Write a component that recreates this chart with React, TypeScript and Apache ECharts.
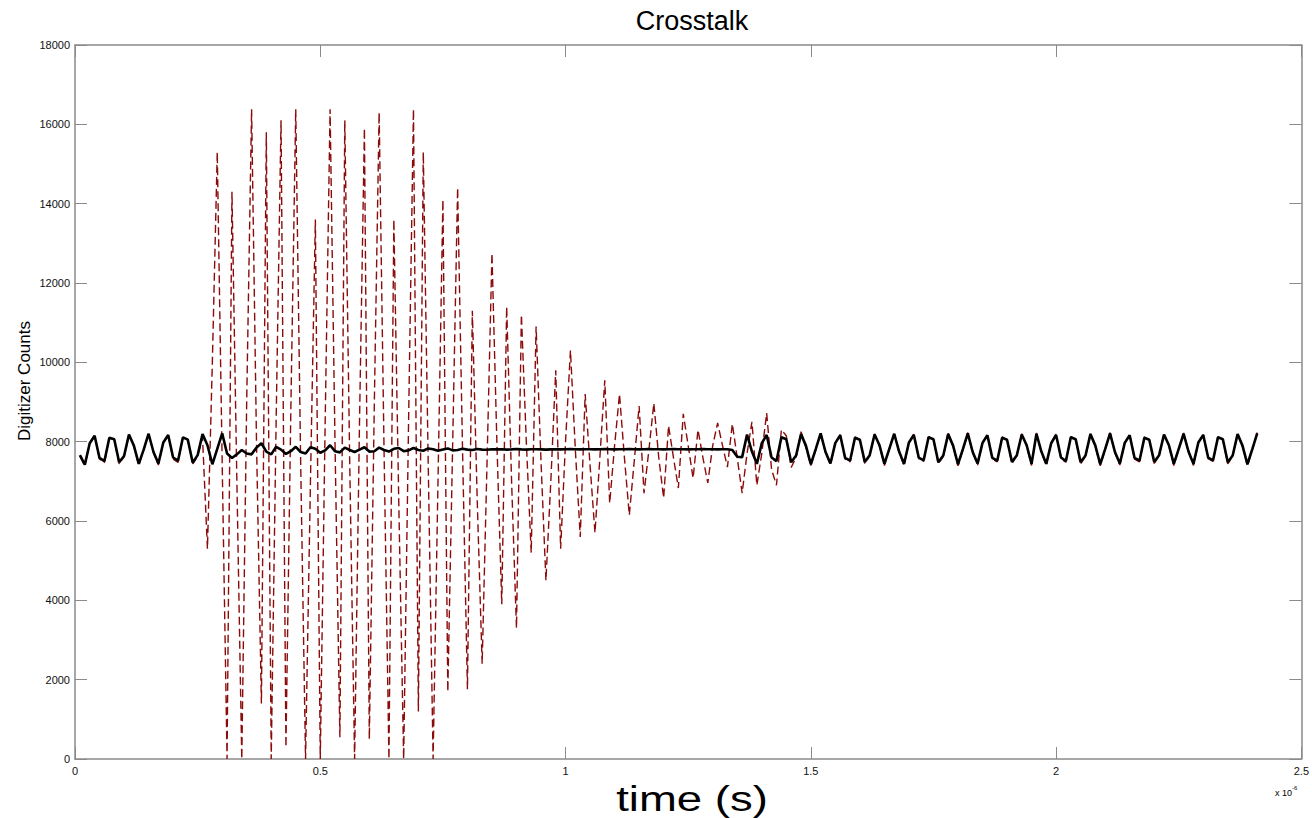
import React, { useEffect, useRef } from "react";
import * as echarts from "echarts";

// Digitizer sampling: one sample every 0.01 µs, first sample at 0.01 µs
const SAMPLE_INTERVAL_US = 0.01;

const xTickLabels = ["0", "0.5", "1", "1.5", "2", "2.5"];
const yTickLabels = ["0", "2000", "4000", "6000", "8000", "10000", "12000", "14000", "16000", "18000"];

// Black (solid) channel, digitizer counts, samples 1..241
const blackCounts = [
  // 1-15
  7660, 7420, 7960, 8150, 7590, 7510, 8100, 8060, 7480, 7640, 8180, 7900, 7440, 7800, 8200,
  // 16-30
  7740, 7450, 7980, 8170, 7600, 7520, 8110, 8050, 7470, 7660, 8190, 7910, 7430, 7820, 8210,
  // 31-40
  7700, 7590, 7680, 7790, 7700, 7680, 7850, 7960, 7750, 7680,
  // 41-50
  7870, 7800, 7690, 7760, 7870, 7740, 7700, 7860, 7820, 7720,
  // 51-60
  7780, 7910, 7760, 7730, 7850, 7790, 7740, 7800, 7860, 7750,
  // 61-70
  7760, 7850, 7790, 7750, 7820, 7840, 7760, 7780, 7840, 7790,
  // 71-80
  7770, 7830, 7810, 7770, 7800, 7830, 7780, 7790, 7820, 7800,
  // 81-90
  7790, 7815, 7800, 7795, 7810, 7805, 7810, 7800, 7805, 7815,
  // 91-100
  7805, 7800, 7810, 7810, 7805, 7800, 7805, 7810, 7805, 7810,
  // 101-110
  7815, 7810, 7805, 7810, 7810, 7805, 7810, 7815, 7810, 7805,
  // 111-120
  7810, 7810, 7815, 7810, 7805, 7810, 7815, 7810, 7810, 7805,
  // 121-130
  7810, 7815, 7810, 7810, 7805, 7810, 7810, 7815, 7810, 7810,
  // 131-136
  7805, 7810, 7810, 7790, 7620, 7610,
  // 137-151
  8180, 7750, 7440, 7960, 8170, 7600, 7510, 8110, 8060, 7480, 7650, 8190, 7900, 7430, 7810,
  // 152-166
  8210, 7740, 7450, 7970, 8160, 7590, 7520, 8100, 8050, 7490, 7660, 8180, 7910, 7440, 7820,
  // 167-181
  8200, 7750, 7440, 7980, 8170, 7600, 7530, 8110, 8060, 7480, 7650, 8190, 7900, 7430, 7810,
  // 182-195
  8210, 7740, 7450, 7970, 8160, 7590, 7520, 8100, 8050, 7490, 7660, 8180, 7910, 7440,
  // 196-210
  8200, 7750, 7440, 7960, 8170, 7600, 7510, 8110, 8060, 7480, 7650, 8190, 7900, 7430, 7810,
  // 211-225
  8210, 7740, 7450, 7970, 8160, 7590, 7520, 8100, 8050, 7490, 7660, 8180, 7910, 7440, 7820,
  // 226-240
  8200, 7750, 7440, 7980, 8170, 7600, 7530, 8110, 8060, 7480, 7650, 8190, 7900, 7430, 7810,
  // 241
  8210,
];

// Red (dashed) channel, digitizer counts, samples 1..241
const redCounts = [
  // 1-15
  7640, 7390, 7950, 8140, 7560, 7470, 8090, 8050, 7440, 7620, 8170, 7890, 7400, 7790, 8190,
  // 16-26
  7720, 7410, 7970, 8160, 7560, 7480, 8100, 8040, 7440, 7640, 8100,
  // 27-36
  5300, 10000, 15300, 7500, 0, 14300, 7000, 0, 9000, 16383,
  // 37-46
  8000, 1400, 15800, 0, 8500, 16100, 300, 8800, 16383, 7500,
  // 47-56
  0, 7000, 13600, 0, 8500, 16383, 8000, 550, 16100, 7500,
  // 57-66
  0, 8500, 15900, 500, 8800, 16300, 7800, 0, 13600, 6500,
  // 67-76
  0, 8500, 16383, 1200, 15300, 7500, 0, 7000, 14100, 1700,
  // 77-86
  8000, 14400, 7800, 1760, 11300, 6500, 2400, 7500, 12750, 8000,
  // 87-96
  3900, 11400, 7000, 3300, 11200, 8000, 5200, 10900, 7500, 4500,
  // 97-106
  7000, 9800, 5300, 8000, 10300, 7800, 5600, 9200, 7400, 5700,
  // 107-116
  7600, 9550, 6450, 7900, 9200, 7600, 6150, 7500, 8900, 6700,
  // 117-126
  7800, 8970, 7600, 6580, 8400, 7600, 6830, 8700, 7900, 7080,
  // 127-136
  8300, 7600, 6960, 7900, 8470, 7900, 7360, 8450, 7600, 6700,
  // 137-139
  7700, 8500, 6900,
  // 140-151
  7700, 8720, 7300, 6900, 8300, 8150, 7350, 7600, 8250, 7850, 7400, 7780,
  // 152-166
  8230, 7720, 7410, 7980, 8180, 7560, 7490, 8120, 8040, 7450, 7640, 8200, 7890, 7400, 7800,
  // 167-181
  8220, 7730, 7400, 7990, 8190, 7570, 7500, 8130, 8050, 7440, 7630, 8210, 7880, 7390, 7790,
  // 182-195
  8230, 7720, 7410, 7980, 8180, 7560, 7490, 8120, 8040, 7450, 7640, 8200, 7890, 7400,
  // 196-210
  8220, 7730, 7400, 7970, 8190, 7570, 7480, 8130, 8050, 7440, 7630, 8210, 7880, 7390, 7790,
  // 211-225
  8230, 7720, 7410, 7980, 8180, 7560, 7490, 8120, 8040, 7450, 7640, 8200, 7890, 7400, 7800,
  // 226-240
  8220, 7730, 7400, 7990, 8190, 7570, 7500, 8130, 8050, 7440, 7630, 8210, 7880, 7390, 7790,
  // 241
  8230,
];

const sampleTimesUs = blackCounts.map((_, i) => +((i + 1) * SAMPLE_INTERVAL_US).toFixed(2));

const FONT = "'Liberation Sans', Arial, Helvetica, sans-serif";
const FRAME = "#8a8a8a";

export default function App() {
  const ref = useRef<HTMLDivElement>(null);

  useEffect(() => {
    if (!ref.current) return;
    const chart = echarts.init(ref.current, undefined, { renderer: "svg" });

    const blackData = sampleTimesUs.map((t, i) => [t, blackCounts[i]]);
    const redData = sampleTimesUs.map((t, i) => [t, redCounts[i]]);

    const xFmt = (v: number) => {
      const idx = Math.round(v / 0.5);
      return xTickLabels[idx] ?? String(v);
    };
    const yFmt = (v: number) => {
      const idx = Math.round(v / 2000);
      return yTickLabels[idx] ?? String(v);
    };

    const axisLineStyle = { color: FRAME, width: 1.5 };
    const tickStyle = { color: FRAME, width: 1 };

    chart.setOption({
      animation: false,
      backgroundColor: "#ffffff",
      grid: { left: 75, right: 9, top: 45, bottom: 59 },
      xAxis: [
        {
          type: "value",
          min: 0,
          max: 2.5,
          interval: 0.5,
          position: "bottom",
          axisLine: { show: true, onZero: false, lineStyle: axisLineStyle },
          axisTick: { show: true, inside: true, length: 12, lineStyle: tickStyle },
          axisLabel: {
            show: true,
            color: "#111",
            fontSize: 11,
            fontFamily: FONT,
            margin: 6,
            formatter: xFmt,
            showMinLabel: true,
            showMaxLabel: true,
          },
          splitLine: { show: false },
        },
        {
          type: "value",
          min: 0,
          max: 2.5,
          interval: 0.5,
          position: "top",
          axisLine: { show: true, onZero: false, lineStyle: axisLineStyle },
          axisTick: { show: true, inside: true, length: 12, lineStyle: tickStyle },
          axisLabel: { show: false },
          splitLine: { show: false },
        },
      ],
      yAxis: [
        {
          type: "value",
          min: 0,
          max: 18000,
          interval: 2000,
          position: "left",
          axisLine: { show: true, onZero: false, lineStyle: axisLineStyle },
          axisTick: { show: true, inside: true, length: 12, lineStyle: tickStyle },
          axisLabel: {
            show: true,
            color: "#111",
            fontSize: 11,
            fontFamily: FONT,
            margin: 5,
            formatter: yFmt,
            showMinLabel: true,
            showMaxLabel: true,
          },
          splitLine: { show: false },
        },
        {
          type: "value",
          min: 0,
          max: 18000,
          interval: 2000,
          position: "right",
          axisLine: { show: true, onZero: false, lineStyle: axisLineStyle },
          axisTick: { show: true, inside: true, length: 12, lineStyle: tickStyle },
          axisLabel: { show: false },
          splitLine: { show: false },
        },
      ],
      series: [
        {
          name: "Crosstalk channel",
          type: "line",
          data: redData,
          symbol: "none",
          silent: true,
          z: 2,
          lineStyle: { color: "#8b0a0a", width: 1.4, type: [8, 4] },
        },
        {
          name: "Signal channel",
          type: "line",
          data: blackData,
          symbol: "none",
          silent: true,
          z: 3,
          lineStyle: { color: "#000000", width: 2.6 },
        },
      ],
      graphic: [
        {
          type: "text",
          x: 692,
          y: 21,
          silent: true,
          style: {
            text: "Crosstalk",
            font: `27px ${FONT}`,
            fill: "#000",
            textAlign: "center",
            textVerticalAlign: "middle",
          },
        },
        {
          type: "text",
          x: 24,
          y: 381,
          rotation: Math.PI / 2,
          silent: true,
          style: {
            text: "Digitizer Counts",
            font: `17px ${FONT}`,
            fill: "#000",
            textAlign: "center",
            textVerticalAlign: "middle",
          },
        },
        {
          type: "text",
          x: 692,
          y: 799,
          scaleX: 1.3,
          silent: true,
          style: {
            text: "time (s)",
            font: `35px ${FONT}`,
            fill: "#000",
            textAlign: "center",
            textVerticalAlign: "middle",
          },
        },
        {
          type: "text",
          x: 1275,
          y: 791,
          silent: true,
          style: {
            text: "{a|x 10}{b|-6}",
            fill: "#000",
            textAlign: "left",
            textVerticalAlign: "middle",
            rich: {
              a: { fontSize: 9, fontFamily: FONT, fill: "#000", verticalAlign: "bottom" },
              b: { fontSize: 6, fontFamily: FONT, fill: "#000", verticalAlign: "top", padding: [0, 0, 6, 0] },
            },
          },
        },
      ],
    });

    return () => {
      chart.dispose();
    };
  }, []);

  return (
    <div
      ref={ref}
      style={{ position: "fixed", left: 0, top: 0, width: 1312, height: 818, background: "#fff" }}
    />
  );
}
